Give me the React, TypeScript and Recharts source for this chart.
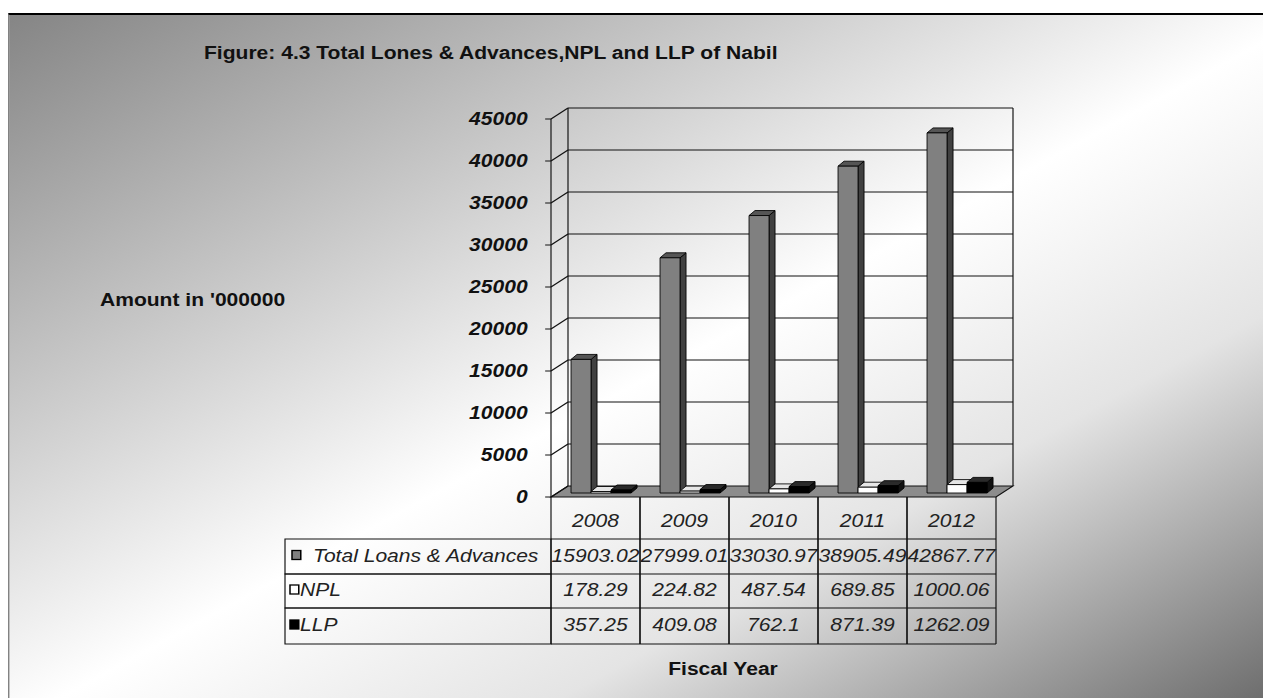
import React from "react";
import { BarChart, Bar, XAxis, YAxis, CartesianGrid } from "recharts";

const years = ["2008", "2009", "2010", "2011", "2012"];
const totalLoans = [15903.02, 27999.01, 33030.97, 38905.49, 42867.77];
const npl = [178.29, 224.82, 487.54, 689.85, 1000.06];
const llp = [357.25, 409.08, 762.1, 871.39, 1262.09];
const seriesNames = ["Total Loans & Advances", "NPL", "LLP"];
const yTicks = [0, 5000, 10000, 15000, 20000, 25000, 30000, 35000, 40000, 45000];

const data = years.map((year, i) => ({ year, total: totalLoans[i], npl: npl[i], llp: llp[i] }));

// the source picture is stretched sideways, so the whole thing is drawn narrow and scaled in x
const W = 1080;
const H = 698;
const S = 1263 / W;
const PLOT_L = 551 / S;
const PLOT_R = 996 / S;
const PLOT_T = 119;
const PLOT_B = 497;
const BAND = (PLOT_R - PLOT_L) / years.length;
const DX = 17 / S; // wall depth
const DY = 11;
const BX = 6 / S; // bars stand a little behind the front edge
const BY = 4;
const SX = 6 / S; // bar depth
const SY = 5;
const ROWS = [539, 574, 608, 644];
const LABEL_L = 285 / S;
const FONT = "'Liberation Sans', Arial, Helvetica, sans-serif";
const INK = "#111";

const wallLine = (p: any) => {
  const { x1, x2, y1 } = p;
  const by = y1 - DY;
  const isFloor = Math.abs(y1 - PLOT_B) < 0.5;
  const isTop = Math.abs(y1 - PLOT_T) < 0.5;
  return (
    <g key={p.key} stroke={INK} strokeWidth={1}>
      {isFloor ? (
        <polygon points={`${x1},${y1} ${x2},${y1} ${x2 + DX},${by} ${x1 + DX},${by}`} fill="#8c8c8c" />
      ) : (
        <line x1={x1 + DX} y1={by} x2={x2 + DX} y2={by} />
      )}
      <line x1={x1} y1={y1} x2={x1 + DX} y2={by} />
      {isTop && (
        <>
          <line x1={x1 + DX} y1={by} x2={x1 + DX} y2={PLOT_B - DY} />
          <line x1={x2 + DX} y1={by} x2={x2 + DX} y2={PLOT_B - DY} />
        </>
      )}
    </g>
  );
};

const boxShape = (front: string, side: string, top: string) => (p: any) => {
  const { x, y, width, height } = p;
  if (x == null || width == null) return <g />;
  const h = Math.max(height || 0, 0);
  const fx = x + BX;
  const fy = y - BY;
  const r = fx + width;
  const b = fy + h;
  return (
    <g stroke="#000" strokeWidth={0.8} strokeLinejoin="round">
      <polygon points={`${r},${fy} ${r + SX},${fy - SY} ${r + SX},${b - SY} ${r},${b}`} fill={side} />
      <polygon points={`${fx},${fy} ${fx + SX},${fy - SY} ${r + SX},${fy - SY} ${r},${fy}`} fill={top} />
      <rect x={fx} y={fy} width={width} height={h} fill={front} />
    </g>
  );
};

const keyColors = ["#808080", "#ffffff", "#000000"];
const cellText = { fontFamily: FONT, fontSize: 18, fontStyle: "italic", fill: "#222" } as const;

function RowLabels() {
  const keyX = [292 / S, 290 / S, 290 / S];
  const textX = [313 / S, 300 / S, 300 / S];
  return (
    <g>
      {[0, 1, 2].map((r) => {
        const top = ROWS[r];
        const bottom = ROWS[r + 1];
        const cy = (top + bottom) / 2 - 1;
        return (
          <g key={r}>
            <rect x={LABEL_L} y={top} width={PLOT_L - LABEL_L} height={bottom - top} fill="none" stroke={INK} />
            <rect x={keyX[r]} y={cy - 5} width={7.5} height={9} fill={keyColors[r]} stroke="#000" strokeWidth={1.3} />
            <text x={textX[r]} y={cy} dominantBaseline="central" {...cellText}>
              {seriesNames[r]}
            </text>
          </g>
        );
      })}
    </g>
  );
}

function TableColumn(props: any) {
  const { x, payload } = props;
  const i = props.index ?? payload.index;
  const left = x - BAND / 2;
  const right = x + BAND / 2;
  const values = [totalLoans[i], npl[i], llp[i]];
  return (
    <g>
      <line x1={left} y1={PLOT_B} x2={left} y2={ROWS[3]} stroke={INK} />
      <line x1={right} y1={PLOT_B} x2={right} y2={ROWS[3]} stroke={INK} />
      {ROWS.map((ry) => (
        <line key={ry} x1={left} y1={ry} x2={right} y2={ry} stroke={INK} />
      ))}
      <text x={x} y={521} textAnchor="middle" dominantBaseline="central" {...cellText}>
        {payload.value}
      </text>
      {values.map((v, r) => (
        <text key={r} x={x} y={(ROWS[r] + ROWS[r + 1]) / 2 - 1} textAnchor="middle" dominantBaseline="central" {...cellText}>
          {String(v)}
        </text>
      ))}
      {i === 0 && <RowLabels />}
    </g>
  );
}

const label = { position: "absolute", fontFamily: FONT, fontSize: 18, fontWeight: "bold", color: INK, lineHeight: "18px", whiteSpace: "nowrap" } as const;

export default function App() {
  return (
    <div
      style={{
        position: "fixed",
        left: 0,
        top: 0,
        width: W,
        height: H,
        background: "#fff",
        transform: `scaleX(${S})`,
        transformOrigin: "0 0",
        overflow: "hidden",
      }}
    >
      <div
        style={{
          position: "absolute",
          left: 8 / S,
          top: 13,
          right: 0,
          bottom: 0,
          boxSizing: "border-box",
          borderTop: "2px solid #000",
          borderLeft: "1px solid #666",
          background: "linear-gradient(to bottom right, #858585 0%, #ffffff 52%, #e4e4e4 72%, #6e6e6e 100%)",
        }}
      />
      <div style={{ ...label, left: 204 / S, top: 44 }}>Figure: 4.3 Total Lones &amp; Advances,NPL and LLP of Nabil</div>
      <div style={{ ...label, left: 100 / S, top: 291 }}>Amount in '000000</div>
      <div style={{ ...label, left: 723 / S, top: 660, transform: "translateX(-50%)" }}>Fiscal Year</div>
      <div style={{ position: "absolute", left: 0, top: 0 }}>
        <BarChart
          width={W}
          height={H}
          data={data}
          margin={{ top: PLOT_T, right: W - PLOT_R, left: PLOT_L - 60, bottom: H - PLOT_B - 150 }}
          barSize={20 / S}
          barGap={0}
        >
          <CartesianGrid vertical={false} horizontal={wallLine} />
          <XAxis dataKey="year" axisLine={false} tickLine={false} height={150} interval={0} tick={<TableColumn />} />
          <YAxis
            domain={[0, 45000]}
            ticks={yTicks}
            width={60}
            tickSize={5}
            tickMargin={15}
            axisLine={{ stroke: INK }}
            tickLine={{ stroke: INK }}
            tick={{ fontFamily: FONT, fontSize: 18, fontWeight: "bold", fontStyle: "italic", fill: INK }}
            interval={0}
          />
          <Bar dataKey="total" name={seriesNames[0]} isAnimationActive={false} shape={boxShape("#808080", "#404040", "#555555")} />
          <Bar dataKey="npl" name={seriesNames[1]} isAnimationActive={false} shape={boxShape("#ffffff", "#bdbdbd", "#e6e6e6")} />
          <Bar dataKey="llp" name={seriesNames[2]} isAnimationActive={false} shape={boxShape("#000000", "#111111", "#2a2a2a")} />
        </BarChart>
      </div>
    </div>
  );
}
